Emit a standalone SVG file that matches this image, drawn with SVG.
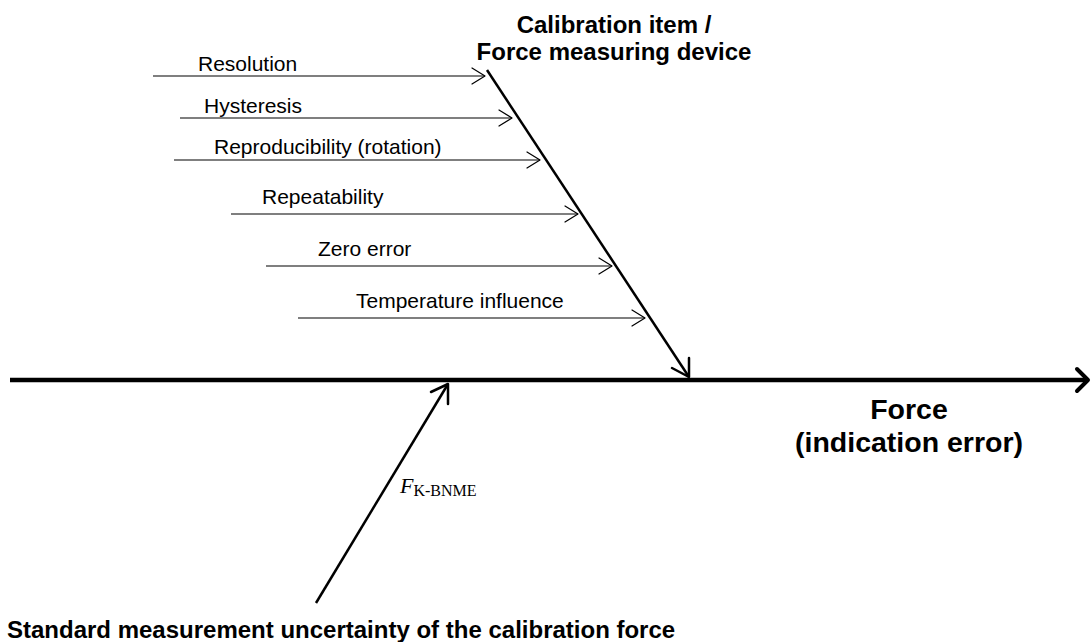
<svg xmlns="http://www.w3.org/2000/svg" width="1091" height="642" viewBox="0 0 1091 642">
<style>
.lbl{font-family:"Liberation Sans",Arial,sans-serif;font-size:21px;fill:#000}
.bold{font-family:"Liberation Sans",Arial,sans-serif;font-weight:bold;fill:#000}
.thin{stroke:#000;stroke-width:1.2;fill:none}
.head{stroke:#000;fill:none;stroke-linecap:round;stroke-linejoin:round}
</style>
<rect width="1091" height="642" fill="#fff"/>
<g id="connectors">
  <line x1="10" y1="380" x2="1086" y2="380" stroke="#000" stroke-width="4.5"/>
  <polyline class="head" points="1077,369 1088,380 1077,391" stroke-width="4"/>
  <line x1="487" y1="70" x2="689" y2="377" stroke="#000" stroke-width="2.5"/>
  <polyline class="head" points="672,368 689,377 689,358" stroke-width="2.5"/>
  <line x1="316" y1="603" x2="448" y2="384" stroke="#000" stroke-width="2.5"/>
  <polyline class="head" points="431,392 448,384 448,404" stroke-width="2.5"/>
  <line class="thin" x1="153" y1="76" x2="485" y2="76"/>
  <polyline class="head" points="472,68 485,76 472,84" stroke-width="1.2"/>
  <line class="thin" x1="180" y1="118" x2="512" y2="118"/>
  <polyline class="head" points="499,110 512,118 499,126" stroke-width="1.2"/>
  <line class="thin" x1="174" y1="160" x2="540" y2="160"/>
  <polyline class="head" points="527,152 540,160 527,168" stroke-width="1.2"/>
  <line class="thin" x1="231" y1="214" x2="578" y2="214"/>
  <polyline class="head" points="565,206 578,214 565,222" stroke-width="1.2"/>
  <line class="thin" x1="266" y1="266" x2="612" y2="266"/>
  <polyline class="head" points="599,258 612,266 599,274" stroke-width="1.2"/>
  <line class="thin" x1="298" y1="318" x2="645" y2="318"/>
  <polyline class="head" points="632,310 645,318 632,326" stroke-width="1.2"/>
</g>
<g id="resolution"><text class="lbl" x="198" y="71">Resolution</text></g>
<g id="hysteresis"><text class="lbl" x="204" y="113">Hysteresis</text></g>
<g id="reproducibility"><text class="lbl" x="214" y="154">Reproducibility (rotation)</text></g>
<g id="repeatability"><text class="lbl" x="262" y="204">Repeatability</text></g>
<g id="zero-error"><text class="lbl" x="318" y="256">Zero error</text></g>
<g id="temperature"><text class="lbl" x="356" y="308">Temperature influence</text></g>
<g id="calibration-item">
  <text class="bold" font-size="24" text-anchor="middle" x="614" y="33">Calibration item /</text>
  <text class="bold" font-size="24" text-anchor="middle" x="614" y="60">Force measuring device</text>
</g>
<g id="force">
  <text class="bold" font-size="28.5" text-anchor="middle" x="909" y="419">Force</text>
  <text class="bold" font-size="28.5" text-anchor="middle" x="909" y="452">(indication error)</text>
</g>
<g id="fk-bnme">
  <text x="400" y="493" font-family="'Liberation Serif','DejaVu Serif',serif" font-style="italic" font-size="22" fill="#000">F<tspan font-style="normal" font-size="16" dy="3">K-BNME</tspan></text>
</g>
<g id="standard-uncertainty">
  <text class="bold" font-size="24" x="7" y="638">Standard measurement uncertainty of the calibration force</text>
</g>
</svg>
